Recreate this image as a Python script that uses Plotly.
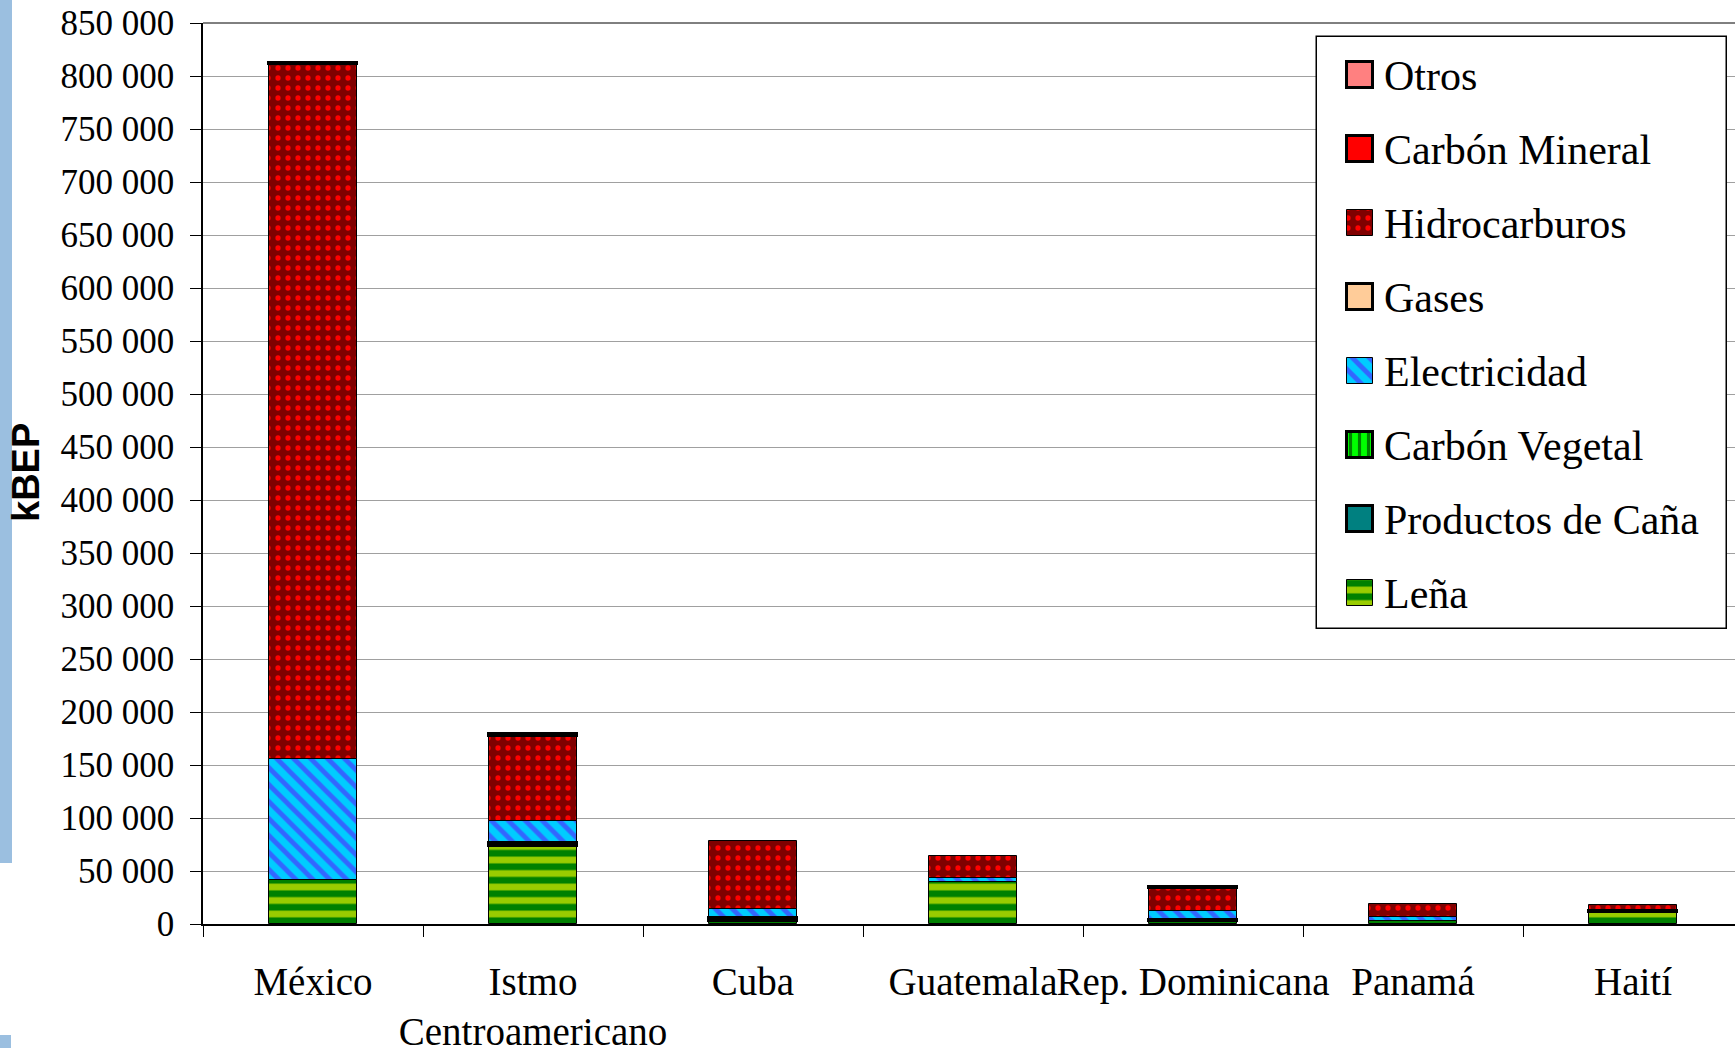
import numpy as np
import plotly.graph_objects as go

# Figure and plot-area geometry (pixels)
FIG_W, FIG_H = 1735, 1048
PLOT_LEFT, PLOT_RIGHT = 203, 1735
PLOT_TOP, PLOT_BOTTOM = 23, 924


def paper_x(px):
    return (px - PLOT_LEFT) / (PLOT_RIGHT - PLOT_LEFT)


def paper_y(py):
    return (PLOT_BOTTOM - py) / (PLOT_BOTTOM - PLOT_TOP)


# ---- Data (kBEP) ----
categories = ["México", "Istmo<br>Centroamericano", "Cuba", "Guatemala",
              "Rep. Dominicana", "Panamá", "Haití"]

lena = [41200, 74000, 3000, 39300, 3300, 2800, 11000]
productos_cana = [0, 2000, 2200, 0, 500, 0, 0]
carbon_vegetal = [0, 0, 0, 0, 0, 0, 1500]
electricidad = [114200, 21500, 9300, 4500, 8800, 3800, 0]
gases = [0, 0, 0, 0, 0, 0, 0]
hidrocarburos = [655600, 80300, 64200, 20000, 21300, 12600, 5700]
carbon_mineral = [1000, 0, 0, 0, 1000, 0, 0]
otros = [0, 1300, 0, 0, 0, 0, 0]

y_tick_step = 50000
y_max = 850000

# Stacking order, bottom to top
stack = [
    ("Leña", lena),
    ("Productos de Caña", productos_cana),
    ("Carbón Vegetal", carbon_vegetal),
    ("Electricidad", electricidad),
    ("Gases", gases),
    ("Hidrocarburos", hidrocarburos),
    ("Carbón Mineral", carbon_mineral),
    ("Otros", otros),
]

# Fill styles per source
STYLES = {
    "Leña": dict(color="#99CC00", lw=1,
                 pattern=dict(shape="-", fgcolor="#008000", bgcolor="#99CC00",
                              size=13.5, solidity=0.5, fillmode="replace")),
    "Productos de Caña": dict(color="#008080", lw=3, pattern=None),
    "Carbón Vegetal": dict(color="#00FF00", lw=3,
                           pattern=dict(shape="|", fgcolor="#008000", bgcolor="#00FF00",
                                        size=9, solidity=0.35, fillmode="replace")),
    "Electricidad": dict(color="#00CCFF", lw=1,
                         pattern=dict(shape="\\", fgcolor="#3366FF", bgcolor="#00CCFF",
                                      size=12, solidity=0.4, fillmode="replace")),
    "Gases": dict(color="#FFCC99", lw=3, pattern=None),
    "Hidrocarburos": dict(color="#800000", lw=1,
                          pattern=dict(shape=".", fgcolor="#FF0000", bgcolor="#800000",
                                       size=10, solidity=0.22, fillmode="replace")),
    "Carbón Mineral": dict(color="#FF0000", lw=3, pattern=None),
    "Otros": dict(color="#FF8080", lw=3, pattern=None),
}


def marker_for(name):
    st = STYLES[name]
    m = dict(color=st["color"], line=dict(color="black", width=st["lw"]))
    if st["pattern"] is not None:
        m["pattern"] = st["pattern"]
    return m


# cumulative bases for the stacked columns
values = np.array([v for _, v in stack], dtype=float)
bases = np.vstack([np.zeros(len(categories)), np.cumsum(values, axis=0)[:-1]])

fig = go.Figure()

# thin-bordered fills first, thick-bordered small segments on top
draw_order = sorted(range(len(stack)), key=lambda i: STYLES[stack[i][0]]["lw"])
for i in draw_order:
    name, vals = stack[i]
    yv = [v if v > 0 else None for v in vals]
    fig.add_trace(go.Bar(
        x=categories, y=yv, base=bases[i].tolist(), width=0.4,
        name=name, marker=marker_for(name), showlegend=False,
        xaxis="x", yaxis="y", hoverinfo="x+y+name",
    ))

# ---- Legend drawn on a pixel-scaled overlay axis ----
LEG_BOX = dict(left=1317, right=1727, top=37, bottom=629)
LEG_FIRST_CENTER = 75
LEG_STEP = 74
SWATCH = 26
SWATCH_CX = 1360
TEXT_X = 1382
legend_order = [name for name, _ in stack][::-1]

fig.add_trace(go.Bar(
    x=[(LEG_BOX["left"] + LEG_BOX["right"]) / 2],
    y=[LEG_BOX["bottom"] - LEG_BOX["top"]], base=[LEG_BOX["top"]],
    width=[LEG_BOX["right"] - LEG_BOX["left"]],
    marker=dict(color="white", line=dict(color="black", width=1.5)),
    showlegend=False, hoverinfo="skip", xaxis="x2", yaxis="y2",
))

annotations = []
for k, name in enumerate(legend_order):
    cy = LEG_FIRST_CENTER + k * LEG_STEP
    fig.add_trace(go.Bar(
        x=[SWATCH_CX], y=[SWATCH], base=[cy - SWATCH / 2], width=[SWATCH],
        marker=marker_for(name), showlegend=False, hoverinfo="skip",
        xaxis="x2", yaxis="y2",
    ))
    annotations.append(dict(
        x=TEXT_X, y=cy + 1, xref="x2", yref="y2", text=name, showarrow=False,
        xanchor="left", yanchor="middle",
        font=dict(family="Liberation Serif", size=42, color="black"),
    ))

# y-axis title
annotations.append(dict(
    x=paper_x(26), y=paper_y(473), xref="paper", yref="paper", text="<b>kBEP</b>",
    textangle=-90, showarrow=False, xanchor="center", yanchor="middle",
    font=dict(family="Liberation Sans", size=38, color="black"),
))

shapes = [
    # slide accent strips on the left edge
    dict(type="rect", xref="paper", yref="paper", layer="below",
         x0=paper_x(0), x1=paper_x(12), y0=paper_y(863), y1=paper_y(0),
         fillcolor="#9BBFE0", line=dict(width=0)),
    dict(type="rect", xref="paper", yref="paper", layer="below",
         x0=paper_x(0), x1=paper_x(11), y0=paper_y(1048), y1=paper_y(1035),
         fillcolor="#9BBFE0", line=dict(width=0)),
    # top border of the plot area
    dict(type="line", xref="paper", yref="paper", x0=0, x1=1, y0=1, y1=1,
         line=dict(color="black", width=1)),
]

fig.update_layout(
    width=FIG_W, height=FIG_H,
    margin=dict(l=PLOT_LEFT, r=FIG_W - PLOT_RIGHT, t=PLOT_TOP, b=FIG_H - PLOT_BOTTOM,
                pad=0, autoexpand=False),
    paper_bgcolor="white", plot_bgcolor="white",
    barmode="overlay", bargap=0, showlegend=False,
    separators=". ",
    xaxis=dict(
        type="category", range=[-0.5, (PLOT_RIGHT - PLOT_LEFT) / 220 - 0.5],
        showline=True, linecolor="black", linewidth=1.5,
        ticks="outside", ticklen=11, tickwidth=1, tickcolor="black",
        tickson="boundaries", showgrid=False, ticklabelstandoff=22,
        tickangle=0, automargin=False,
        tickfont=dict(family="Liberation Serif", size=39, color="black"),
        fixedrange=True,
    ),
    yaxis=dict(
        range=[0, y_max], tick0=0, dtick=y_tick_step, tickformat=",d",
        showline=True, linecolor="black", linewidth=1.5,
        ticks="outside", ticklen=11, tickwidth=1, tickcolor="black",
        showgrid=True, gridcolor="#A0A0A0", gridwidth=1, zeroline=False,
        ticklabelstandoff=9, automargin=False,
        tickfont=dict(family="Liberation Serif", size=35, color="black"),
        fixedrange=True,
    ),
    xaxis2=dict(overlaying="x", anchor="y2", range=[PLOT_LEFT, PLOT_RIGHT],
                visible=False, fixedrange=True),
    yaxis2=dict(overlaying="y", anchor="x2", range=[PLOT_BOTTOM, PLOT_TOP],
                visible=False, fixedrange=True),
    annotations=annotations,
    shapes=shapes,
)

fig.write_html("out.html")
